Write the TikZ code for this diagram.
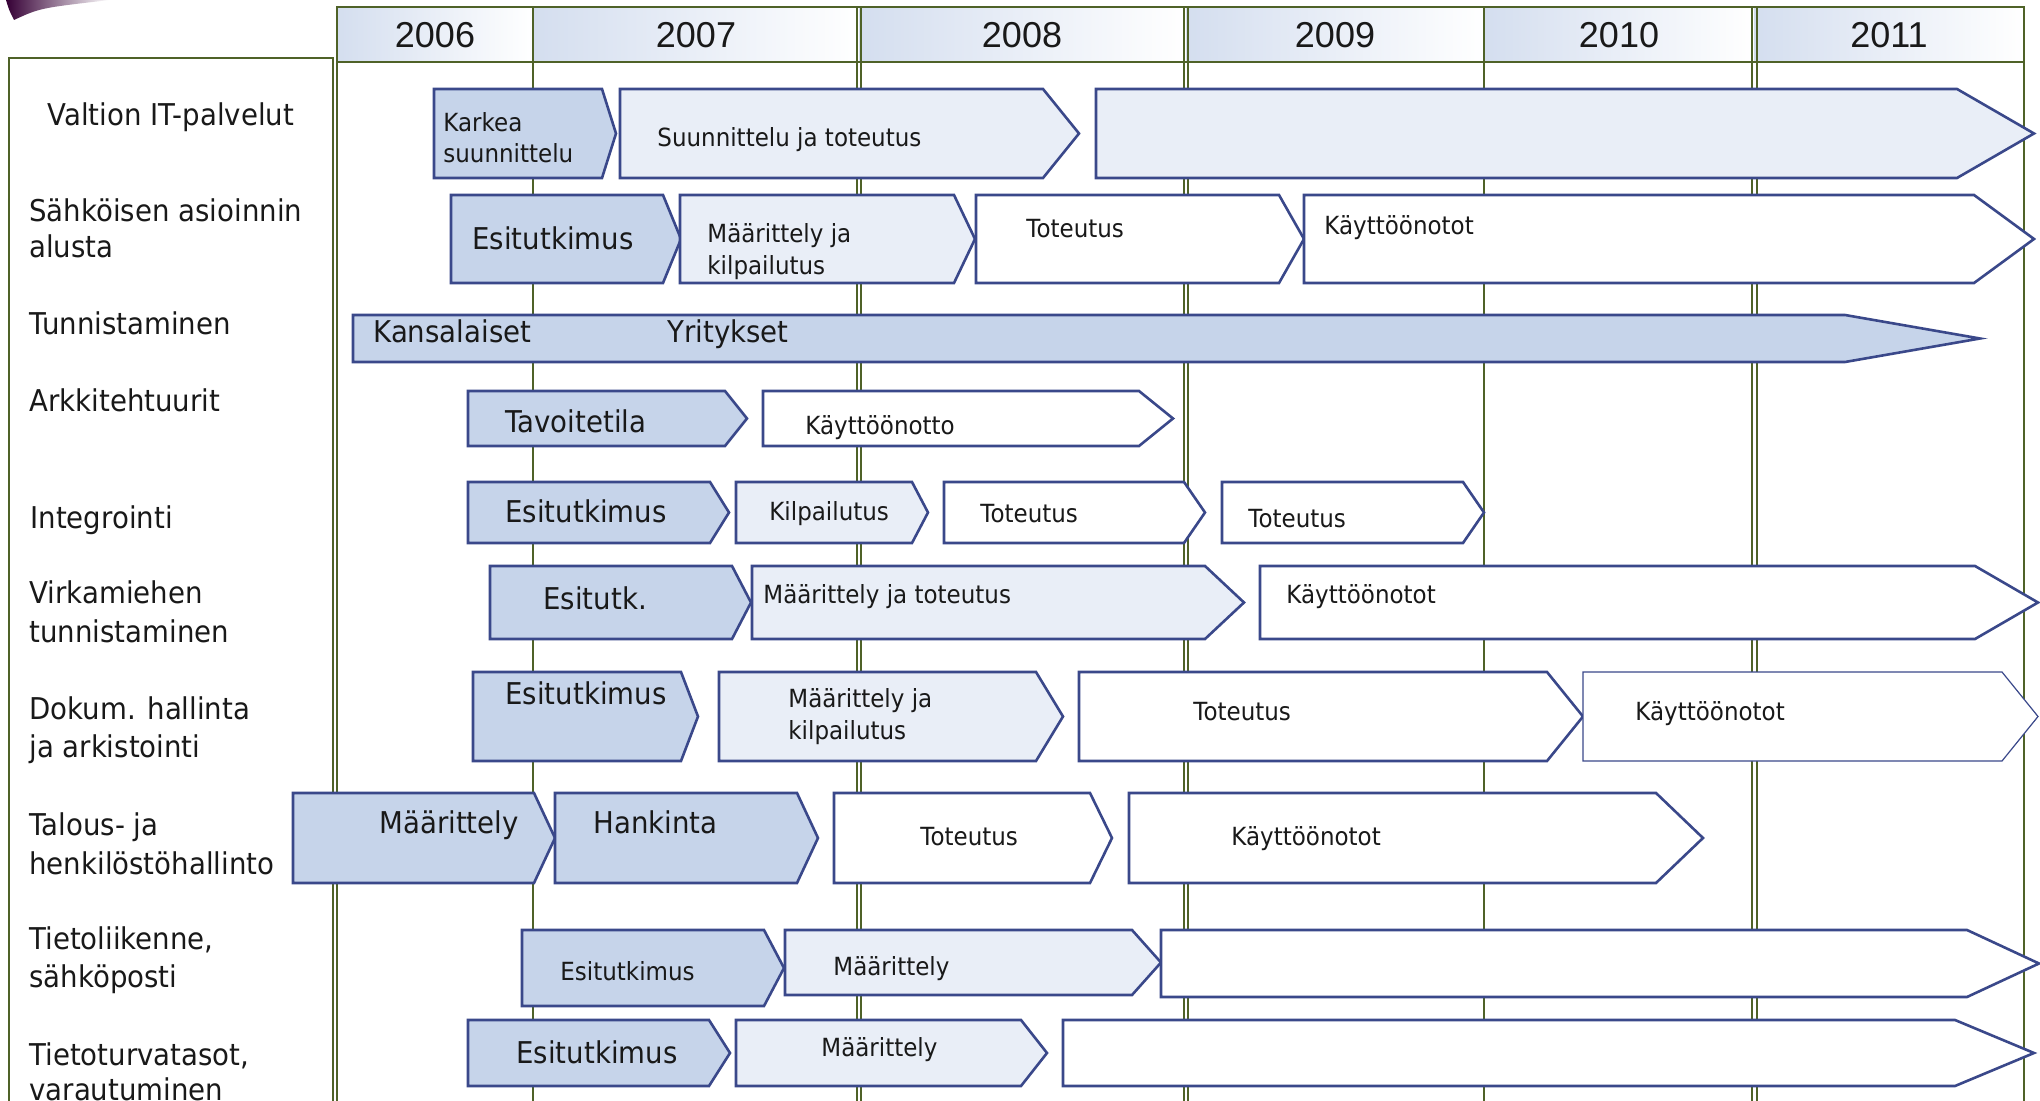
\documentclass[tikz,border=0pt]{standalone}
\usepackage{fontspec}
\setmainfont{DejaVu Sans}[FakeStretch=0.92]
\newfontfamily\yearfont{Liberation Sans}
\definecolor{gridc}{RGB}{79,98,40}
\definecolor{edgec}{RGB}{58,72,138}
\definecolor{darkf}{RGB}{198,212,234}
\definecolor{lightf}{RGB}{233,238,247}
\definecolor{hdrc}{RGB}{212,222,239}
\definecolor{txtc}{RGB}{25,25,25}
\newcommand\chev[7]{%
  \draw[#2] (#3,#6) -- (#4,#6) -- (#5,{(#6+#7)/2}) -- (#4,#7) -- (#3,#7) -- cycle;
  \coordinate (#1) at (#3,#6);}
\begin{document}
\begin{tikzpicture}[x=0.5pt,y=-0.5pt,
  gridline/.style={draw=gridc, line width=1pt},
  gridthin/.style={draw=gridc, line width=0.6pt},
  ch/.style={draw=edgec, line width=1.3pt, line join=miter},
  dk/.style={ch, fill=darkf},
  lt/.style={ch, fill=lightf},
  wh/.style={ch, fill=white},
  whthin/.style={draw=edgec, line width=0.6pt, fill=white},
  txt/.style={anchor=base west, inner sep=0pt, text=txtc},
  lbl/.style={txt, font=\fontsize{15}{18}\selectfont},
  big/.style={txt, font=\fontsize{15}{18}\selectfont},
  sm/.style={txt, font=\fontsize{12.5}{15}\selectfont},
  yr/.style={anchor=base, inner sep=0pt, text=txtc, font=\yearfont\fontsize{18}{21}\selectfont}]
\useasboundingbox (0,0) rectangle (2040,1101);
\clip (0,0) rectangle (2040,1101);
% corner swoosh
\shade[left color=black!40!violet!70!black, right color=white]
  (6,0) .. controls (9,10) .. (14,20) .. controls (40,8) .. (110,0) -- cycle;
% header
\foreach \a/\b in {337/533,533/859,859/1186,1186/1484,1484/1754,1754/2024}
  \shade[left color=hdrc, right color=white] (\a,7) rectangle (\b,62);
\draw[gridline] (337,7) rectangle (2024,62);
% left panel
\draw[gridline] (9,1101) -- (9,58) -- (333,58) -- (333,1101);
% vertical grid
\draw[gridline] (337,7) -- (337,1101);
\draw[gridline] (533,7) -- (533,1101);
\draw[gridthin] (857,7) -- (857,1101);
\draw[gridthin] (861,7) -- (861,1101);
\draw[gridthin] (1184,7) -- (1184,1101);
\draw[gridthin] (1188,7) -- (1188,1101);
\draw[gridline] (1484,7) -- (1484,1101);
\draw[gridthin] (1752,7) -- (1752,1101);
\draw[gridthin] (1757,7) -- (1757,1101);
\draw[gridline] (2024,7) -- (2024,1101);
% years
\node[yr] (y6) at (435,48) {2006};
\node[yr] (y7) at (696,48) {2007};
\node[yr] (y8) at (1022,48) {2008};
\node[yr] (y9) at (1335,48) {2009};
\node[yr] (y10) at (1619,48) {2010};
\node[yr] (y11) at (1889,48) {2011};
% row labels
\node[lbl] (l1) at (47,126) {Valtion IT-palvelut};
\node[lbl] (l2a) at (29,222) {Sähköisen asioinnin};
\node[lbl] (l2b) at (29,258) {alusta};
\node[lbl] (l3) at (29,335) {Tunnistaminen};
\node[lbl] (l4) at (29,412) {Arkkitehtuurit};
\node[lbl] (l5) at (30,528) {Integrointi};
\node[lbl] (l6a) at (29,603) {Virkamiehen};
\node[lbl] (l6b) at (29,642) {tunnistaminen};
\node[lbl] (l7a) at (29,719) {Dokum. hallinta};
\node[lbl] (l7b) at (29,757) {ja arkistointi};
\node[lbl] (l8a) at (29,835) {Talous- ja};
\node[lbl] (l8b) at (29,874) {henkilöstöhallinto};
\node[lbl] (l9a) at (29,949) {Tietoliikenne,};
\node[lbl] (l9b) at (29,987) {sähköposti};
\node[lbl] (l10a) at (29,1065) {Tietoturvatasot,};
\node[lbl] (l10b) at (29,1100) {varautuminen};
% row 1
\chev{r1a}{dk}{434}{602}{616}{89}{178}
\chev{r1b}{lt}{620}{1043}{1079}{89}{178}
\chev{r1c}{lt}{1096}{1957}{2034}{89}{178}
\node[sm] (t1a) at (443,132) {Karkea};
\node[sm] (t1b) at (443,163) {suunnittelu};
\node[sm] (t1c) at (657,147) {Suunnittelu ja toteutus};
% row 2
\chev{r2a}{dk}{451}{663}{681}{195}{283}
\chev{r2b}{lt}{680}{954}{975}{195}{283}
\chev{r2c}{wh}{976}{1279}{1304}{195}{283}
\chev{r2d}{wh}{1304}{1974}{2034}{195}{283}
\node[big] (t2a) at (472,250) {Esitutkimus};
\node[sm] (t2b) at (707,243) {Määrittely ja};
\node[sm] (t2c) at (707,275) {kilpailutus};
\node[sm] (t2d) at (1026,238) {Toteutus};
\node[sm] (t2e) at (1324,235) {Käyttöönotot};
% row 3
\chev{r3}{dk}{353}{1845}{1980}{315}{362}
\node[big] (t3a) at (373,343) {Kansalaiset};
\node[big] (t3b) at (667,343) {Yritykset};
% row 4
\chev{r4a}{dk}{468}{725}{747}{391}{446}
\chev{r4b}{wh}{763}{1139}{1173}{391}{446}
\node[big] (t4a) at (505,433) {Tavoitetila};
\node[sm] (t4b) at (805,435) {Käyttöönotto};
% row 5
\chev{r5a}{dk}{468}{710}{729}{482}{543}
\chev{r5b}{lt}{736}{912}{928}{482}{543}
\chev{r5c}{wh}{944}{1184}{1205}{482}{543}
\chev{r5d}{wh}{1222}{1463}{1484}{482}{543}
\node[big] (t5a) at (505,523) {Esitutkimus};
\node[sm] (t5b) at (769,520) {Kilpailutus};
\node[sm] (t5c) at (980,523) {Toteutus};
\node[sm] (t5d) at (1248,527) {Toteutus};
% row 6
\chev{r6a}{dk}{490}{732}{751}{566}{639}
\chev{r6b}{lt}{752}{1205}{1244}{566}{639}
\chev{r6c}{wh}{1260}{1975}{2038}{566}{639}
\node[big] (t6a) at (543,609) {Esitutk.};
\node[sm] (t6b) at (763,603) {Määrittely ja toteutus};
\node[sm] (t6c) at (1286,603) {Käyttöönotot};
% row 7
\chev{r7a}{dk}{473}{681}{698}{672}{761}
\chev{r7b}{lt}{719}{1036}{1063}{672}{761}
\chev{r7c}{wh}{1079}{1547}{1583}{672}{761}
\chev{r7d}{whthin}{1583}{2002}{2038}{672}{761}
\node[big] (t7a) at (505,704) {Esitutkimus};
\node[sm] (t7b) at (788,707) {Määrittely ja};
\node[sm] (t7c) at (788,739) {kilpailutus};
\node[sm] (t7d) at (1193,720) {Toteutus};
\node[sm] (t7e) at (1635,720) {Käyttöönotot};
% row 8
\chev{r8a}{dk}{293}{534}{555}{793}{883}
\chev{r8b}{dk}{555}{797}{818}{793}{883}
\chev{r8c}{wh}{834}{1090}{1112}{793}{883}
\chev{r8d}{wh}{1129}{1656}{1703}{793}{883}
\node[big] (t8a) at (379,833) {Määrittely};
\node[big] (t8b) at (593,833) {Hankinta};
\node[sm] (t8c) at (920,845) {Toteutus};
\node[sm] (t8d) at (1231,845) {Käyttöönotot};
% row 9
\chev{r9a}{dk}{522}{764}{784}{930}{1006}
\chev{r9b}{lt}{785}{1132}{1161}{930}{995}
\chev{r9c}{wh}{1161}{1967}{2039}{930}{997}
\node[sm] (t9a) at (560,980) {Esitutkimus};
\node[sm] (t9b) at (833,975) {Määrittely};
% row 10
\chev{r10a}{dk}{468}{709}{730}{1020}{1086}
\chev{r10b}{lt}{736}{1021}{1047}{1020}{1086}
\chev{r10c}{wh}{1063}{1955}{2034}{1020}{1086}
\node[big] (t10a) at (516,1063) {Esitutkimus};
\node[sm] (t10b) at (821,1056) {Määrittely};
\end{tikzpicture}
\end{document}
